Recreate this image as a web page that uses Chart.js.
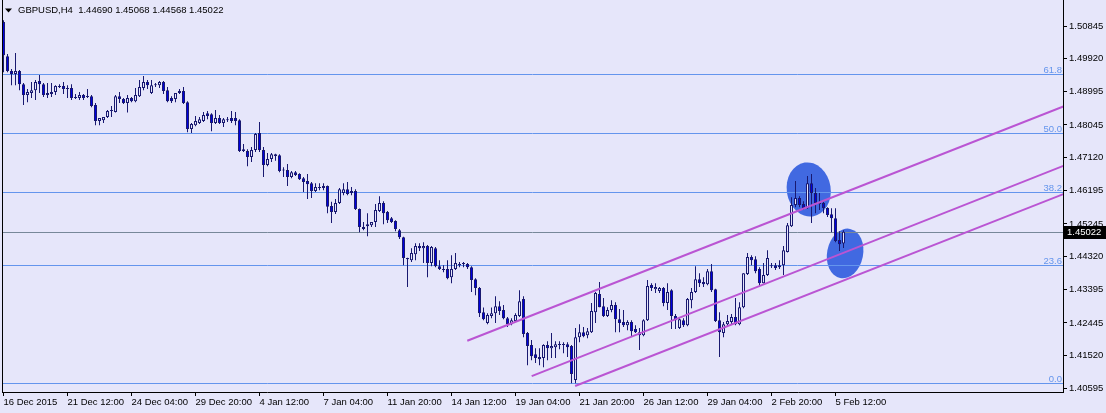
<!DOCTYPE html>
<html>
<head>
<meta charset="utf-8">
<script src="https://cdn.jsdelivr.net/npm/chart.js@4.4.0/dist/chart.umd.min.js"></script>
<style>
  html, body { margin: 0; padding: 0; background: #e6e6fa; overflow: hidden; }
  #chart { display: block; }
</style>
</head>
<body>
<canvas id="chart" width="1106" height="413"></canvas>
<script>
// GBPUSD H4, bars from 16 Dec 2015 20:00 to 5 Feb 2016 20:00
const symbol = 'GBPUSD';
const timeframe = 'H4';

const opens = [
  1.5096, 1.4999, 1.4957, 1.4949, 1.4957, 1.4920, 1.4889, 1.4895, 1.4903, 1.4929,
  1.4920, 1.4889, 1.4892, 1.4898, 1.4912, 1.4915, 1.4906, 1.4909, 1.4881, 1.4881,
  1.4889, 1.4884, 1.4886, 1.4861, 1.4816, 1.4818, 1.4827, 1.4844, 1.4841, 1.4886,
  1.4878, 1.4867, 1.4881, 1.4872, 1.4886, 1.4909, 1.4926, 1.4895, 1.4917, 1.4917,
  1.4926, 1.4903, 1.4881, 1.4878, 1.4895, 1.4901, 1.4869, 1.4793, 1.4804, 1.4810,
  1.4816, 1.4838, 1.4835, 1.4810, 1.4824, 1.4810, 1.4818, 1.4824, 1.4824, 1.4818,
  1.4731, 1.4731, 1.4714, 1.4734, 1.4782, 1.4734, 1.4691, 1.4708, 1.4722, 1.4719,
  1.4677, 1.4677, 1.4657, 1.4671, 1.4666, 1.4654, 1.4646, 1.4640, 1.4618, 1.4626,
  1.4632, 1.4632, 1.4575, 1.4558, 1.4584, 1.4612, 1.4623, 1.4618, 1.4618, 1.4567,
  1.4516, 1.4518, 1.4521, 1.4530, 1.4561, 1.4584, 1.4558, 1.4541, 1.4533, 1.4507,
  1.4487, 1.4428, 1.4422, 1.4439, 1.4462, 1.4456, 1.4462, 1.4414, 1.4456, 1.4405,
  1.4397, 1.4397, 1.4374, 1.4397, 1.4408, 1.4411, 1.4411, 1.4402, 1.4368, 1.4343,
  1.4275, 1.4244, 1.4264, 1.4272, 1.4292, 1.4281, 1.4258, 1.4241, 1.4250, 1.4264,
  1.4312, 1.4216, 1.4182, 1.4156, 1.4148, 1.4145, 1.4182, 1.4173, 1.4176, 1.4182,
  1.4184, 1.4184, 1.4179, 1.4083, 1.4204, 1.4218, 1.4210, 1.4218, 1.4275, 1.4326,
  1.4292, 1.4264, 1.4281, 1.4295, 1.4255, 1.4247, 1.4238, 1.4247, 1.4227, 1.4218,
  1.4210, 1.4252, 1.4352, 1.4340, 1.4335, 1.4343, 1.4301, 1.4337, 1.4264, 1.4230,
  1.4252, 1.4238, 1.4309, 1.4332, 1.4368, 1.4360, 1.4354, 1.4391, 1.4340, 1.4252,
  1.4216, 1.4241, 1.4247, 1.4261, 1.4241, 1.4289, 1.4383, 1.4431, 1.4425, 1.4397,
  1.4357, 1.4380, 1.4405, 1.4408, 1.4402, 1.4408, 1.4445, 1.4518, 1.4578, 1.4598,
  1.4581, 1.4570, 1.4640, 1.4612, 1.4587, 1.4584, 1.4570, 1.4552, 1.4541, 1.4479,
  1.44690
];

const highs = [
  1.5101, 1.5005, 1.4963, 1.5008, 1.4960, 1.4923, 1.4906, 1.4926, 1.4932, 1.4946,
  1.4923, 1.4923, 1.4923, 1.4917, 1.4920, 1.4926, 1.4917, 1.4920, 1.4892, 1.4898,
  1.4892, 1.4906, 1.4889, 1.4867, 1.4824, 1.4827, 1.4847, 1.4858, 1.4889, 1.4898,
  1.4881, 1.4889, 1.4884, 1.4909, 1.4932, 1.4943, 1.4932, 1.4932, 1.4923, 1.4929,
  1.4929, 1.4912, 1.4886, 1.4895, 1.4906, 1.4912, 1.4872, 1.4810, 1.4830, 1.4827,
  1.4841, 1.4844, 1.4838, 1.4847, 1.4833, 1.4824, 1.4827, 1.4844, 1.4841, 1.4821,
  1.4751, 1.4736, 1.4742, 1.4782, 1.4813, 1.4742, 1.4725, 1.4725, 1.4723, 1.4722,
  1.4685, 1.4694, 1.4674, 1.4674, 1.4668, 1.4657, 1.4666, 1.4643, 1.4640, 1.4640,
  1.4640, 1.4633, 1.4587, 1.4595, 1.4626, 1.4640, 1.4643, 1.4629, 1.4623, 1.4568,
  1.4530, 1.4555, 1.4530, 1.4581, 1.4603, 1.4589, 1.4561, 1.4544, 1.4535, 1.4510,
  1.4488, 1.4429, 1.4456, 1.4470, 1.4470, 1.4473, 1.4465, 1.4462, 1.4459, 1.4422,
  1.4408, 1.4422, 1.4436, 1.4442, 1.4417, 1.4417, 1.4414, 1.4405, 1.4371, 1.4346,
  1.4288, 1.4272, 1.4288, 1.4320, 1.4306, 1.4295, 1.4261, 1.4258, 1.4272, 1.4337,
  1.4320, 1.4219, 1.4196, 1.4173, 1.4173, 1.4184, 1.4193, 1.4216, 1.4193, 1.4193,
  1.4190, 1.4190, 1.4182, 1.4230, 1.4241, 1.4233, 1.4230, 1.4301, 1.4332, 1.4360,
  1.4315, 1.4289, 1.4309, 1.4303, 1.4284, 1.4281, 1.4252, 1.4252, 1.4238, 1.4230,
  1.4255, 1.4366, 1.4357, 1.4357, 1.4346, 1.4346, 1.4357, 1.4340, 1.4270, 1.4258,
  1.4258, 1.4315, 1.4343, 1.4405, 1.4385, 1.4374, 1.4397, 1.4411, 1.4341, 1.4275,
  1.4247, 1.4267, 1.4270, 1.4315, 1.4303, 1.4385, 1.4442, 1.4436, 1.4433, 1.4402,
  1.4414, 1.4450, 1.4414, 1.4414, 1.4422, 1.4462, 1.4527, 1.4600, 1.4646, 1.4603,
  1.4589, 1.4660, 1.4666, 1.4626, 1.4612, 1.4587, 1.4572, 1.4569, 1.4569, 1.4504,
  1.45068
];

const lows = [
  1.4954, 1.4954, 1.4917, 1.4917, 1.4903, 1.4861, 1.4869, 1.4881, 1.4875, 1.4895,
  1.4884, 1.4881, 1.4884, 1.4889, 1.4909, 1.4892, 1.4881, 1.4875, 1.4878, 1.4875,
  1.4875, 1.4881, 1.4855, 1.4804, 1.4804, 1.4810, 1.4824, 1.4827, 1.4840, 1.4867,
  1.4864, 1.4840, 1.4869, 1.4869, 1.4884, 1.4903, 1.4906, 1.4892, 1.4912, 1.4909,
  1.4892, 1.4869, 1.4867, 1.4869, 1.4892, 1.4864, 1.4784, 1.4782, 1.4801, 1.4807,
  1.4813, 1.4821, 1.4787, 1.4807, 1.4807, 1.4799, 1.4813, 1.4810, 1.4804, 1.4728,
  1.4728, 1.4688, 1.4700, 1.4728, 1.4728, 1.4657, 1.4688, 1.4700, 1.4703, 1.4671,
  1.4657, 1.4632, 1.4654, 1.4660, 1.4649, 1.4615, 1.4595, 1.4598, 1.4615, 1.4620,
  1.4620, 1.4555, 1.4527, 1.4553, 1.4581, 1.4606, 1.4606, 1.4606, 1.4564, 1.4501,
  1.4507, 1.4490, 1.4516, 1.4516, 1.4558, 1.4524, 1.4527, 1.4527, 1.4504, 1.4482,
  1.4408, 1.4346, 1.4417, 1.4422, 1.4448, 1.4414, 1.4374, 1.4405, 1.4402, 1.4394,
  1.4388, 1.4368, 1.4357, 1.4394, 1.4402, 1.4402, 1.4397, 1.4332, 1.4323, 1.4261,
  1.4252, 1.4241, 1.4258, 1.4244, 1.4267, 1.4255, 1.4233, 1.4238, 1.4247, 1.4261,
  1.4204, 1.4125, 1.4139, 1.4131, 1.4125, 1.4119, 1.4139, 1.4145, 1.4145, 1.4170,
  1.4159, 1.4148, 1.4074, 1.4074, 1.4190, 1.4204, 1.4201, 1.4216, 1.4244, 1.4289,
  1.4261, 1.4261, 1.4275, 1.4218, 1.4218, 1.4233, 1.4224, 1.4207, 1.4216, 1.4168,
  1.4207, 1.4250, 1.4335, 1.4329, 1.4329, 1.4292, 1.4281, 1.4227, 1.4227, 1.4227,
  1.4233, 1.4235, 1.4286, 1.4329, 1.4346, 1.4346, 1.4351, 1.4332, 1.4247, 1.4148,
  1.4204, 1.4235, 1.4241, 1.4238, 1.4238, 1.4286, 1.4380, 1.4408, 1.4385, 1.4349,
  1.4356, 1.4377, 1.4400, 1.4394, 1.4397, 1.4380, 1.4444, 1.4516, 1.4572, 1.4572,
  1.4564, 1.4567, 1.4527, 1.4555, 1.4564, 1.4555, 1.4544, 1.4501, 1.4473, 1.4448,
  1.44568
];

const closes = [
  1.5002, 1.4957, 1.4949, 1.4957, 1.4920, 1.4889, 1.4898, 1.4903, 1.4926, 1.4920,
  1.4889, 1.4895, 1.4898, 1.4915, 1.4915, 1.4906, 1.4909, 1.4881, 1.4884, 1.4889,
  1.4881, 1.4886, 1.4858, 1.4816, 1.4824, 1.4827, 1.4844, 1.4847, 1.4886, 1.4878,
  1.4867, 1.4881, 1.4872, 1.4889, 1.4912, 1.4926, 1.4917, 1.4917, 1.4920, 1.4926,
  1.4901, 1.4872, 1.4872, 1.4895, 1.4901, 1.4867, 1.4793, 1.4807, 1.4816, 1.4821,
  1.4833, 1.4830, 1.4810, 1.4824, 1.4810, 1.4821, 1.4821, 1.4816, 1.4816, 1.4731,
  1.4736, 1.4714, 1.4734, 1.4779, 1.4734, 1.4691, 1.4708, 1.4722, 1.4717, 1.4674,
  1.4676, 1.4657, 1.4671, 1.4663, 1.4651, 1.4643, 1.4637, 1.4618, 1.4629, 1.4629,
  1.4626, 1.4573, 1.4558, 1.4584, 1.4623, 1.4623, 1.4609, 1.4612, 1.4567, 1.4516,
  1.4510, 1.4524, 1.4530, 1.4564, 1.4584, 1.4555, 1.4535, 1.4530, 1.4510, 1.4487,
  1.4428, 1.4425, 1.4442, 1.4462, 1.4456, 1.4462, 1.4414, 1.4459, 1.4405, 1.4397,
  1.4394, 1.4371, 1.4397, 1.4414, 1.4411, 1.4414, 1.4402, 1.4366, 1.4343, 1.4272,
  1.4255, 1.4267, 1.4272, 1.4292, 1.4278, 1.4258, 1.4241, 1.4252, 1.4267, 1.4306,
  1.4213, 1.4179, 1.4150, 1.4145, 1.4142, 1.4182, 1.4173, 1.4179, 1.4184, 1.4184,
  1.4182, 1.4176, 1.4100, 1.4204, 1.4218, 1.4207, 1.4221, 1.4278, 1.4329, 1.4289,
  1.4264, 1.4281, 1.4295, 1.4255, 1.4244, 1.4238, 1.4247, 1.4221, 1.4218, 1.4210,
  1.4252, 1.4349, 1.4343, 1.4346, 1.4343, 1.4301, 1.4332, 1.4264, 1.4252, 1.4255,
  1.4238, 1.4312, 1.4332, 1.4368, 1.4357, 1.4354, 1.4391, 1.4337, 1.4250, 1.4218,
  1.4241, 1.4250, 1.4261, 1.4241, 1.4289, 1.4385, 1.4431, 1.4422, 1.4391, 1.4357,
  1.4380, 1.4428, 1.4408, 1.4400, 1.4408, 1.4450, 1.4521, 1.4578, 1.4598, 1.4578,
  1.4570, 1.4640, 1.4612, 1.4584, 1.4581, 1.4570, 1.4550, 1.4541, 1.4476, 1.4467,
  1.45022
];

// time labels printed under every 16th bar
const timeLabels = [
  '16 Dec 2015', '21 Dec 12:00', '24 Dec 04:00', '29 Dec 20:00', '4 Jan 12:00',
  '7 Jan 04:00', '11 Jan 20:00', '14 Jan 12:00', '19 Jan 04:00', '21 Jan 20:00',
  '26 Jan 12:00', '29 Jan 04:00', '2 Feb 20:00', '5 Feb 12:00'
];
const labelStep = 16;

const priceTicks = [
  1.50845, 1.49920, 1.48995, 1.48045, 1.47120, 1.46195,
  1.45245, 1.44320, 1.43395, 1.42445, 1.41520, 1.40595
];

// Fibonacci retracement
const fibLow = 1.40738;
const fibHigh = 1.54897;
const fibLevels = [0.0, 23.6, 38.2, 50.0, 61.8];

// channel trendlines, [bar index, price]
const channelUpper = [[115.95, 1.4194], [265, 1.4857]];
const channelMiddle = [[132.05, 1.4094], [265, 1.4689]];
const channelLower = [[142.9, 1.4066], [265, 1.4609]];

// marked areas: centre bar/price, half width in bars, half height in price
const ellipses = [
  { x: 201.3, y: 1.4622, rx: 5.5, ry: 0.0077, rot: -0.15 },
  { x: 210.4, y: 1.4441, rx: 4.5, ry: 0.0071, rot: 0.2 }
];

const BG = '#e6e6fa';
const BAR = '#191970';
const BEAR = '#0000e0';
const FIB = '#6495ed';
const CHANNEL = '#ba55d3';
const FONT = { family: 'Liberation Sans', size: 9.5 };

const xMin = -0.375;
const xMax = 264.875;
const yMin = 1.40491;
const yMax = 1.51581;

// split the bars into bodies and wicks
const bullBodies = [];
const bearBodies = [];
const wicks = [];
opens.forEach((o, i) => {
    const c = closes[i];
    wicks.push({ x: i, y: [lows[i], highs[i]] });
    if (c >= o) {
        bullBodies.push({ x: i, y: [o, c] });
    } else {
        bearBodies.push({ x: i, y: [o, c] });
    }
});

const last = opens.length - 1;

const barDefaults = {
    type: 'bar',
    grouped: false,
    borderSkipped: false,
    inflateAmount: 0,
    minBarLength: 1
};

const datasets = [
    Object.assign({}, barDefaults, {
        data: bullBodies, backgroundColor: BG, borderColor: BAR,
        borderWidth: 1, barThickness: 3, order: 2
    }),
    Object.assign({}, barDefaults, {
        data: bearBodies, backgroundColor: BEAR, borderColor: BAR,
        borderWidth: 1, barThickness: 3, order: 2
    }),
    Object.assign({}, barDefaults, {
        data: wicks, backgroundColor: BAR, borderWidth: 0,
        barThickness: 1, order: 3
    })
];

[channelUpper, channelMiddle, channelLower].forEach(ch => {
    datasets.push({
        type: 'line',
        data: ch.map(p => ({ x: p[0], y: p[1] })),
        borderColor: CHANNEL,
        borderWidth: 2,
        pointRadius: 0,
        fill: false,
        tension: 0,
        order: 0
    });
});

// horizontal level at a price, snapped to a whole pixel row
function hLine(ctx, area, y, color) {
    const py = Math.round(y) + 0.5;
    ctx.strokeStyle = color;
    ctx.lineWidth = 1;
    ctx.beginPath();
    ctx.moveTo(area.left, py);
    ctx.lineTo(area.right, py);
    ctx.stroke();
}

const overlays = {
    id: 'overlays',
    beforeDatasetsDraw(chart) {
        const { ctx, chartArea, scales } = chart;
        ctx.save();
        ctx.beginPath();
        ctx.rect(chartArea.left, chartArea.top, chartArea.width, chartArea.height);
        ctx.clip();
        ctx.fillStyle = '#4169e1';
        ellipses.forEach(e => {
            const cx = scales.x.getPixelForValue(e.x);
            const cy = scales.y.getPixelForValue(e.y);
            const rx = Math.abs(scales.x.getPixelForValue(e.x + e.rx) - cx);
            const ry = Math.abs(scales.y.getPixelForValue(e.y + e.ry) - cy);
            ctx.beginPath();
            ctx.ellipse(cx, cy, rx, ry, e.rot, 0, Math.PI * 2);
            ctx.fill();
        });
        fibLevels.forEach(lv => {
            const price = fibLow + (fibHigh - fibLow) * lv / 100;
            hLine(ctx, chartArea, scales.y.getPixelForValue(price), FIB);
        });
        hLine(ctx, chartArea, scales.y.getPixelForValue(closes[last]), '#778899');
        ctx.restore();
    },
    afterDatasetsDraw(chart) {
        const { ctx, chartArea, scales } = chart;
        ctx.save();
        // fibo level captions
        ctx.font = FONT.size + 'px ' + FONT.family;
        ctx.fillStyle = FIB;
        ctx.textAlign = 'right';
        ctx.textBaseline = 'alphabetic';
        fibLevels.forEach(lv => {
            const price = fibLow + (fibHigh - fibLow) * lv / 100;
            const y = Math.round(scales.y.getPixelForValue(price));
            ctx.fillText(lv.toFixed(1), chartArea.right - 1, y - 1);
        });
        // left frame
        ctx.strokeStyle = '#000';
        ctx.lineWidth = 1;
        ctx.beginPath();
        ctx.moveTo(chartArea.left + 0.5, 0);
        ctx.lineTo(chartArea.left + 0.5, chartArea.bottom);
        ctx.stroke();
        ctx.restore();
    },
    afterDraw(chart) {
        const { ctx, scales } = chart;
        ctx.save();
        // header
        ctx.fillStyle = '#000';
        ctx.beginPath();
        ctx.moveTo(5, 8.5);
        ctx.lineTo(12, 8.5);
        ctx.lineTo(8.5, 12.5);
        ctx.closePath();
        ctx.fill();
        ctx.font = FONT.size + 'px ' + FONT.family;
        ctx.textAlign = 'left';
        ctx.textBaseline = 'alphabetic';
        const head = symbol + ',' + timeframe + '  ' +
            [opens[last], highs[last], lows[last], closes[last]].map(v => v.toFixed(5)).join(' ');
        ctx.fillText(head, 18, 13);
        // current price box
        const py = Math.round(scales.y.getPixelForValue(closes[last]));
        ctx.fillStyle = '#000';
        ctx.fillRect(1064, py - 6, 42, 13);
        ctx.fillStyle = '#fff';
        ctx.textBaseline = 'middle';
        ctx.fillText(closes[last].toFixed(5), 1067, py + 0.5);
        ctx.restore();
    }
};

new Chart(document.getElementById('chart'), {
    type: 'bar',
    data: { datasets: datasets },
    options: {
        responsive: false,
        animation: false,
        devicePixelRatio: 1,
        events: [],
        layout: { padding: { left: 2, top: 0, right: 0, bottom: 0 } },
        plugins: {
            legend: { display: false },
            tooltip: { enabled: false }
        },
        scales: {
            x: {
                type: 'linear',
                min: xMin,
                max: xMax,
                offset: false,
                grid: { drawOnChartArea: false, drawTicks: true, tickLength: 4, color: '#000', offset: false },
                border: { color: '#000' },
                afterBuildTicks: (s) => {
                    s.ticks = timeLabels.map((_, k) => ({ value: k * labelStep }));
                },
                afterFit: (s) => {
                    s.height = 21;
                    s.paddingLeft = 0;
                    s.paddingRight = 0;
                },
                ticks: {
                    autoSkip: false,
                    maxRotation: 0,
                    align: 'start',
                    padding: 1,
                    color: '#000',
                    font: FONT,
                    callback: (v) => timeLabels[Math.round(v / labelStep)]
                }
            },
            y: {
                position: 'right',
                min: yMin,
                max: yMax,
                grid: { drawOnChartArea: false, drawTicks: true, tickLength: 4, color: '#000' },
                border: { color: '#000' },
                afterBuildTicks: (s) => {
                    s.ticks = priceTicks.map(v => ({ value: v }));
                },
                afterFit: (s) => {
                    s.width = 43;
                    s.paddingTop = 0;
                    s.paddingBottom = 0;
                },
                ticks: {
                    padding: 2,
                    color: '#000',
                    font: FONT,
                    callback: (v) => v.toFixed(5)
                }
            }
        }
    },
    plugins: [overlays]
});
</script>
</body>
</html>
